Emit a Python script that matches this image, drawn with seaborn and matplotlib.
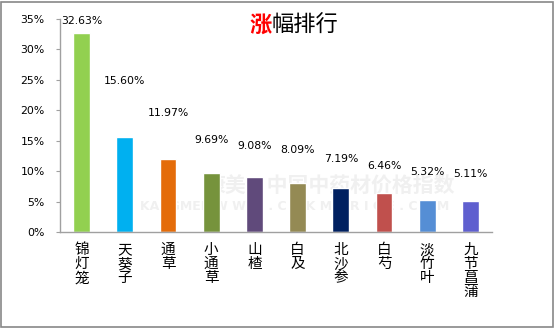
import matplotlib
matplotlib.use("Agg")
import matplotlib.pyplot as plt
import seaborn as sns
import pandas as pd
from matplotlib.patches import Rectangle

categories = ["锦灯笼", "天葵子", "通草", "小通草", "山楂", "白及", "北沙参", "白芍", "淡竹叶", "九节菖蒲"]
values = [32.63, 15.60, 11.97, 9.69, 9.08, 8.09, 7.19, 6.46, 5.32, 5.11]
colors = ["#92D050", "#00B0F0", "#E46C0A", "#76933C", "#604A7B",
          "#948A54", "#002060", "#C0504D", "#558ED5", "#5F5FCF"]
yticks = [0, 5, 10, 15, 20, 25, 30, 35]
# vertical gap (pixels) between bar top and label centre, as placed in the reference
label_gap_px = [12, 56, 46, 33, 31, 33, 29, 27, 28, 27]

sns.set_theme(style="white")
plt.rcParams["font.family"] = ["Noto Sans CJK SC", "DejaVu Sans"]

df = pd.DataFrame({"cat": categories, "val": values})

fig = plt.figure(figsize=(5.55, 3.28), dpi=100)
ax = fig.add_axes([60/555, 96/328, 432/555, 213/328])
ax.patch.set_alpha(0)
ax.set_zorder(2)

sns.barplot(data=df, x="cat", y="val", hue="cat", palette=colors, legend=False,
            width=0.39, ax=ax, saturation=1)

ax.set_ylim(0, 35)
ax.set_xlim(-0.5, len(categories) - 0.5)
ax.set_yticks(yticks)
ax.set_yticklabels([f"{t}%" for t in yticks], family="DejaVu Sans", fontsize=7.8, color="#000000")
ax.set_xticks(range(len(categories)))
ax.set_xticklabels(["\n".join(c) for c in categories], fontsize=10.5, linespacing=1.0,
                   va="top", color="#000000")
ax.tick_params(axis="x", length=0, pad=8)
ax.tick_params(axis="y", length=3, width=0.8, color="#A0A0A0", direction="out", left=True, pad=8)
ax.set_xlabel("")
ax.set_ylabel("")
for s in ["top", "right"]:
    ax.spines[s].set_visible(False)
for s in ["left", "bottom"]:
    ax.spines[s].set_color("#A0A0A0")
    ax.spines[s].set_linewidth(1.0)

for i, (v, g) in enumerate(zip(values, label_gap_px)):
    ax.annotate(f"{v:.2f}%", xy=(i, v), xytext=(0, g * 0.72), textcoords="offset points",
                ha="center", va="center", fontsize=7.8, family="DejaVu Sans", color="#000000")

# faint watermark, behind the plot
fig.text(0.595, 0.435, "康美·中国中药材价格指数", fontsize=15, color="#F0F0F0",
         ha="center", va="center", zorder=-5, weight="bold")
fig.text(0.53, 0.37, "KANGMEI  W W W . C N K M P R I C E . C O M", fontsize=9, color="#F0F0F0",
         ha="center", va="center", zorder=-5, weight="bold", family="DejaVu Sans")

# title
fig.text(0.49, 0.924, "涨", fontsize=16, color="#FF0000", ha="right", va="center", weight="bold")
fig.text(0.49, 0.924, "幅排行", fontsize=16, color="#000000", ha="left", va="center")

fig.patches.append(Rectangle((0.002, 0.004), 0.994, 0.99, transform=fig.transFigure,
                             fill=False, edgecolor="#888888", linewidth=1.2))

fig.savefig("out.png", dpi=100)
